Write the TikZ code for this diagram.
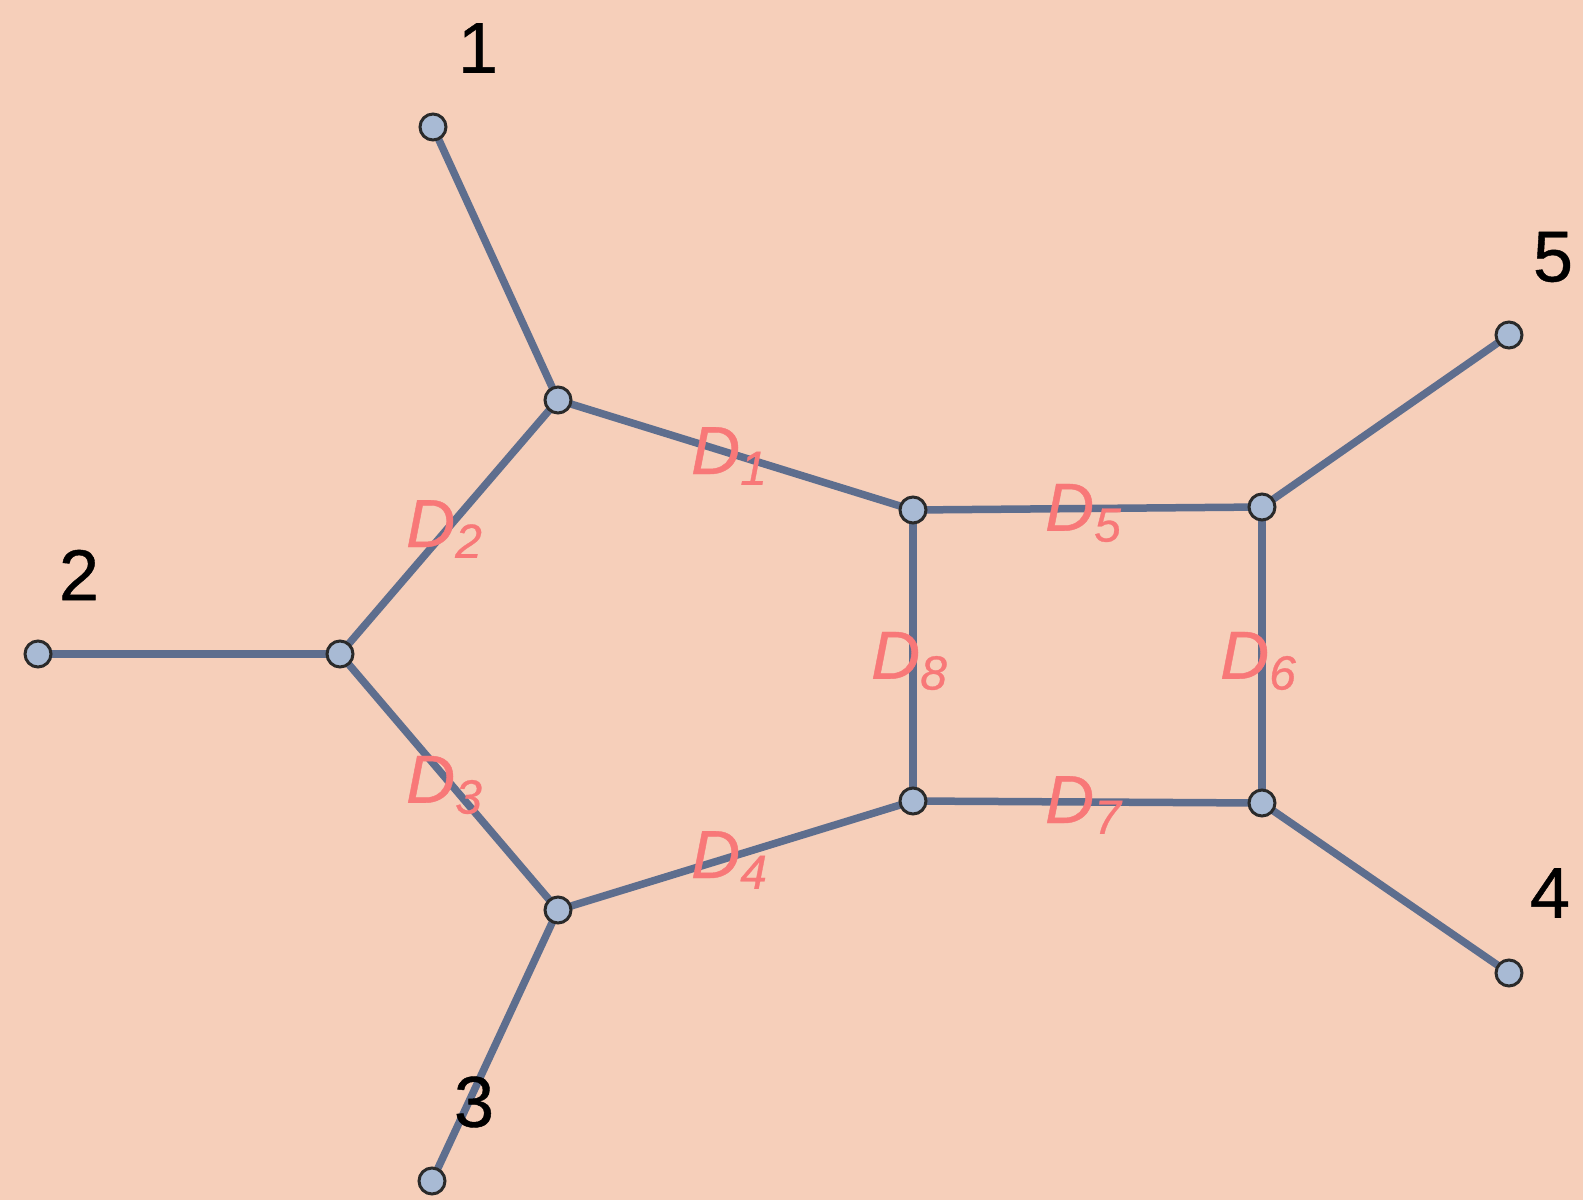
\documentclass[tikz,border=0pt]{standalone}
\usepackage{fontspec}
\setmainfont{Liberation Sans}[FakeBold=0.6,BoldFont={Liberation Sans},BoldFeatures={FakeBold=0.6}]
\definecolor{bg}{HTML}{F6CFBA}
\definecolor{edgec}{HTML}{5E6E8E}
\definecolor{vfill}{HTML}{A8BAD4}
\definecolor{vdraw}{HTML}{2A2A2A}
\definecolor{lab}{HTML}{F87878}
\newcommand{\dlab}[1]{\itshape D\raisebox{-0.3ex}{\fontsize{48}{48}\selectfont #1}}
\begin{document}
\begin{tikzpicture}[x=1pt,y=-1pt,
  vert/.style={circle,fill=vfill,draw=vdraw,line width=3pt,minimum size=26pt,inner sep=0pt},
  edge/.style={draw=edgec,line width=7.5pt},
  numlab/.style={text=black,font=\fontsize{72}{72}\selectfont,inner sep=0pt},
  dl/.style={text=lab,font=\fontsize{68}{68}\selectfont,inner sep=0pt}]
\fill[bg] (0,0) rectangle (1583,1200);
\useasboundingbox (0,0) rectangle (1583,1200);
\coordinate (o1) at (433,127);
\coordinate (o2) at (38,654);
\coordinate (o3) at (432,1181);
\coordinate (o4) at (1509,973);
\coordinate (o5) at (1509,335);
\coordinate (a) at (558,400);
\coordinate (b) at (340,654);
\coordinate (c) at (558,910);
\coordinate (d) at (913,510);
\coordinate (e) at (1262,507);
\coordinate (f) at (1262,803);
\coordinate (g) at (913,801);
\foreach \u/\v in {o1/a,a/b,b/o2,b/c,c/o3,a/d,c/g,d/e,e/f,f/g,d/g,e/o5,f/o4}
  \draw[edge] (\u) -- (\v);
\foreach \n in {o1,o2,o3,o4,o5,a,b,c,d,e,f,g}
  \node[vert] (v\n) at (\n) {};
\node[numlab] (l1) at (478,48) {1};
\node[numlab] (l2) at (79,575) {2};
\node[numlab] (l3) at (474,1102) {3};
\node[numlab] (l4) at (1550,893) {4};
\node[numlab] (l5) at (1553,257) {5};
\node[dl] (D1) at (729,456) {\dlab{1}};
\node[dl] (D2) at (444,529) {\dlab{2}};
\node[dl] (D3) at (444,785) {\dlab{3}};
\node[dl] (D4) at (729,860) {\dlab{4}};
\node[dl] (D5) at (1083,513) {\dlab{5}};
\node[dl] (D6) at (1258,661) {\dlab{6}};
\node[dl] (D7) at (1083,805) {\dlab{7}};
\node[dl] (D8) at (909,661) {\dlab{8}};
\end{tikzpicture}
\end{document}
